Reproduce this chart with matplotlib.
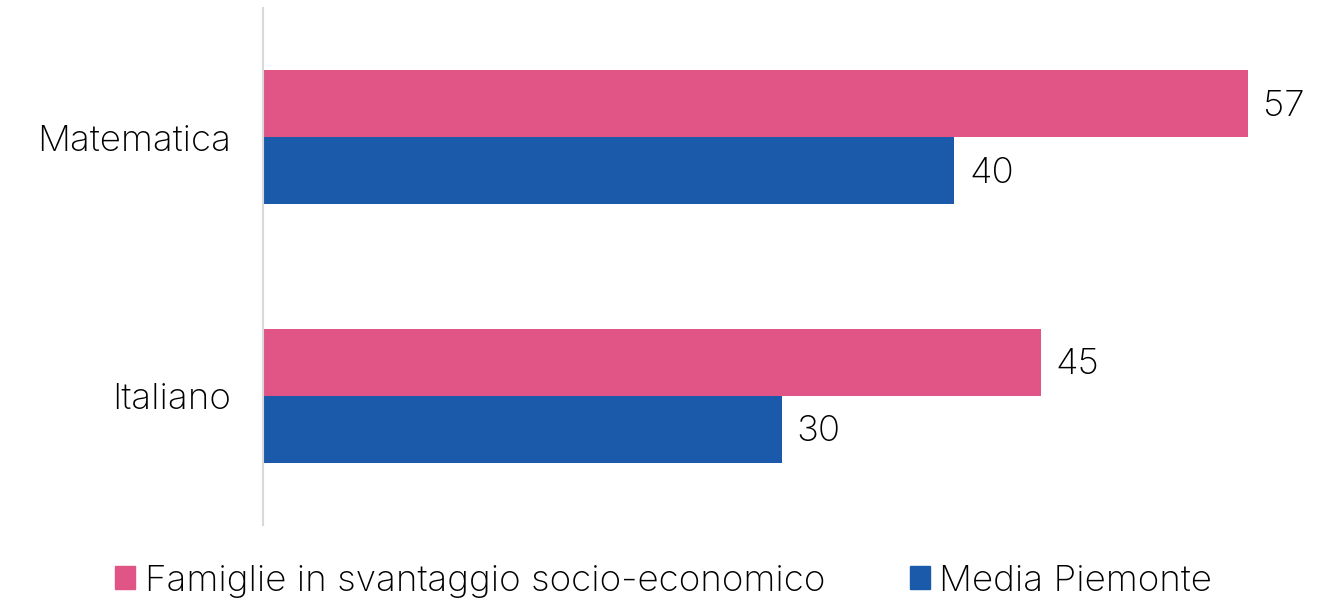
import matplotlib.pyplot as plt
from matplotlib.patches import Patch

categories = ["Italiano", "Matematica"]
famiglie = [45, 57]
media_piemonte = [30, 40]
series_names = ["Famiglie in svantaggio socio-economico", "Media Piemonte"]

PINK = "#E05586"
BLUE = "#1B5AAA"


def main():
	plt.rcParams['font.family'] = ['Inter', 'DejaVu Sans']
	plt.rcParams['font.weight'] = 'light'
	fs = 26.5
	fig = plt.figure(figsize=(13.27, 6.02), dpi=100)
	ax = fig.add_axes([263 / 1327, 77 / 602, 1037 / 1327, 517 / 602])

	h = 0.26
	pos = list(range(len(categories)))
	ax.barh([p + h / 2 for p in pos], famiglie, height=h, color=PINK)
	ax.barh([p - h / 2 for p in pos], media_piemonte, height=h, color=BLUE)

	for p, v in zip(pos, famiglie):
		ax.text(v + 0.85, p + h / 2 - 0.01, str(v), va='center', ha='left', fontsize=fs)
	for p, v in zip(pos, media_piemonte):
		ax.text(v + 0.85, p - h / 2 - 0.01, str(v), va='center', ha='left', fontsize=fs)

	ax.set_xlim(0, 60)
	ax.set_ylim(-0.5, 1.5)
	ax.set_yticks(pos)
	ax.set_yticklabels(categories, fontsize=fs)
	ax.tick_params(axis='y', length=0, pad=23)
	ax.set_xticks([])
	for s in ['top', 'right', 'bottom']:
		ax.spines[s].set_visible(False)
	ax.spines['left'].set_color('#D9D9D9')
	ax.spines['left'].set_linewidth(1.5)

	handles = [Patch(color=PINK), Patch(color=BLUE)]
	fig.legend(handles, series_names, loc='center', bbox_to_anchor=(0.5, 1 - 581 / 602),
			   ncol=2, frameon=False, fontsize=fs, handlelength=0.55, handleheight=0.55,
			   handletextpad=0.25, columnspacing=2.3, borderaxespad=0)

	fig.savefig("out.png", dpi=100)


if __name__ == "__main__":
	main()
